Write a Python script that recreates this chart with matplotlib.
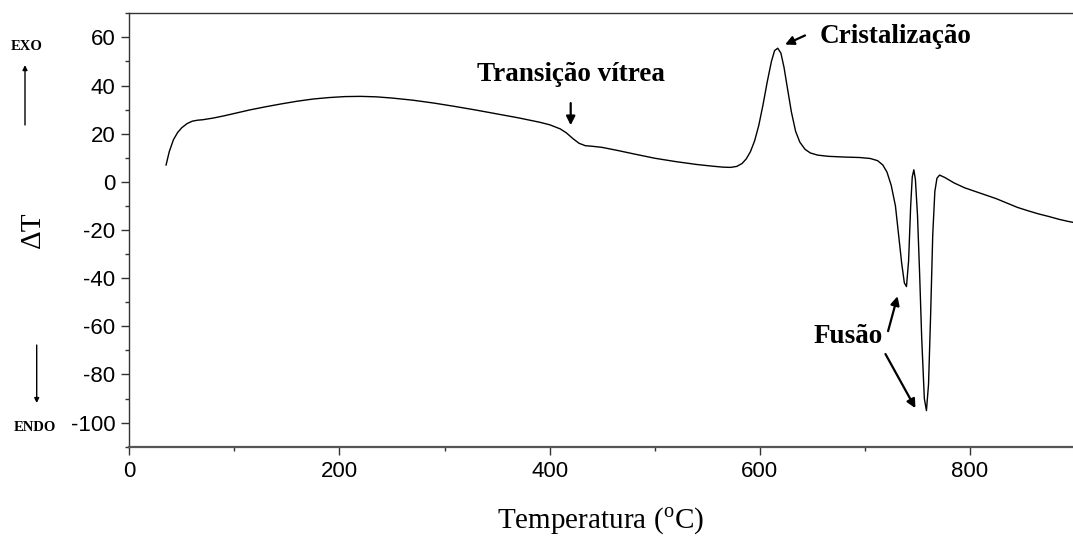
import matplotlib
matplotlib.use("Agg")
import matplotlib.pyplot as plt
from matplotlib.ticker import MultipleLocator

plt.rcParams['mathtext.fontset'] = 'custom'
plt.rcParams['mathtext.rm'] = 'Liberation Serif'
plt.rcParams['axes.unicode_minus'] = False

# DTA curve: temperature (°C) and ΔT
temperature = [35, 38, 42, 46, 50, 55, 60, 65, 70, 80, 90, 100, 115, 130, 145, 160,
               175, 190, 205, 220, 235, 250, 270, 290, 310, 330, 350, 370, 390, 400,
               410, 416, 422, 428, 434, 440, 450, 465, 480, 500, 520, 540, 555, 565,
               572, 578, 583, 587, 591, 595, 599, 603, 607, 611, 614, 617, 620, 623,
               626, 630, 634, 638, 643, 648, 655, 665, 680, 695, 705, 712, 717, 721,
               725, 729, 732, 735, 737.5, 739.5, 741.5, 743.5, 745, 746.5, 748, 750, 752,
               754, 756.5, 758.5, 760.5, 762.5, 764.5, 766.5, 768.5, 771, 776, 785, 795,
               805, 815, 825, 835, 845, 855, 865, 875, 885, 893, 900]
delta_t = [7.0, 12.5, 17.5, 20.5, 22.5, 24.2, 25.2, 25.6, 25.8, 26.5, 27.4, 28.4, 29.9,
           31.2, 32.4, 33.5, 34.4, 35.0, 35.4, 35.5, 35.3, 34.8, 33.9, 32.7, 31.3, 29.8,
           28.2, 26.6, 24.8, 23.7, 22.0, 20.3, 18.0, 16.0, 15.0, 14.8, 14.3, 13.0, 11.6,
           9.8, 8.4, 7.2, 6.5, 6.1, 6.0, 6.4, 7.6, 9.5, 12.5, 17.0, 23.5, 32.0, 41.5,
           50.0, 54.5, 55.5, 53.5, 47.5, 39.5, 29.0, 21.0, 16.5, 13.5, 12.0, 11.1, 10.6,
           10.3, 10.1, 9.7, 8.8, 7.0, 4.0, -1.5, -10.0, -22.0, -34.0, -42.0, -43.5,
           -33.0, -10.0, 2.0, 5.0, 1.0, -14.0, -38.0, -65.0, -90.0, -95.0, -84.0, -55.0,
           -22.0, -4.0, 1.5, 2.8, 1.8, -0.5, -2.5, -4.0, -5.5, -7.0, -8.8, -10.6, -12.0,
           -13.3, -14.4, -15.6, -16.4, -17.0]

x_ticks = [0, 200, 400, 600, 800]
y_ticks = [-100, -80, -60, -40, -20, 0, 20, 40, 60]

fig = plt.figure(figsize=(10.73, 5.38), dpi=100)
ax = fig.add_axes([0.1205, 0.1697, 0.8815, 0.8056])

ax.plot(temperature, delta_t, color='black', lw=1.0)

ax.set_xlim(0, 900)
ax.set_ylim(-110, 70)
ax.set_xticks(x_ticks)
ax.set_yticks(y_ticks)
ax.xaxis.set_minor_locator(MultipleLocator(100))
ax.yaxis.set_minor_locator(MultipleLocator(10))
ax.tick_params(which='major', direction='out', length=6, width=1, colors='#333333',
               labelsize=16, labelcolor='black', pad=4, top=False, right=False)
ax.tick_params(which='minor', direction='out', length=3, width=1, colors='#333333',
               top=False, right=False)
for lab in ax.get_xticklabels() + ax.get_yticklabels():
    lab.set_fontfamily('Liberation Sans')
for sp in ax.spines.values():
    sp.set_color('#333333')
    sp.set_linewidth(1.0)
ax.spines['bottom'].set_linewidth(1.6)
ax.spines['bottom'].set_color('#555555')

serif = 'Liberation Serif'
arrow_kw = dict(arrowstyle='-|>', color='black', lw=1.6, mutation_scale=13,
                shrinkA=0, shrinkB=0)
lab_size = 19.5

ax.text(420, 44.5, 'Transição vítrea', fontfamily=serif, fontweight='bold',
        fontsize=lab_size, ha='center', va='center')
ax.annotate('', xy=(420, 23.5), xytext=(420, 32.7), arrowprops=arrow_kw)

ax.text(657, 60.5, 'Cristalização', fontfamily=serif, fontweight='bold',
        fontsize=lab_size, ha='left', va='center')
ax.annotate('', xy=(624, 57.0), xytext=(643, 60.8), arrowprops=arrow_kw)

ax.text(684, -64.4, 'Fusão', fontfamily=serif, fontweight='bold',
        fontsize=lab_size, ha='center', va='center')
ax.annotate('', xy=(731, -47.5), xytext=(722, -62.0), arrowprops=arrow_kw)
ax.annotate('', xy=(748, -94.0), xytext=(719.5, -71.5), arrowprops=arrow_kw)

# EXO / ENDO indicators
fig.text(0.0252, 0.9132, 'EXO', fontfamily=serif, fontweight='bold', fontsize=10.5,
         ha='center', va='center')
fig.text(0.033, 0.205, 'ENDO', fontfamily=serif, fontweight='bold', fontsize=10.5,
         ha='center', va='center')
small_arrow = dict(arrowstyle='-|>', color='black', lw=1.0, mutation_scale=7,
                   shrinkA=0, shrinkB=0)
fig.add_artist(matplotlib.patches.FancyArrowPatch((0.0233, 0.7677), (0.0233, 0.879),
               transform=fig.transFigure, **small_arrow))
fig.add_artist(matplotlib.patches.FancyArrowPatch((0.0342, 0.3587), (0.0342, 0.2509),
               transform=fig.transFigure, **small_arrow))

fig.text(0.0308, 0.5725, 'ΔT', fontfamily=serif, fontsize=21, rotation=90,
         ha='center', va='center')
fig.text(0.560, 0.030, r'Temperatura ($^{\mathrm{o}}$C)', fontfamily=serif,
         fontsize=21, ha='center', va='center')

fig.savefig('out.png', dpi=100)
